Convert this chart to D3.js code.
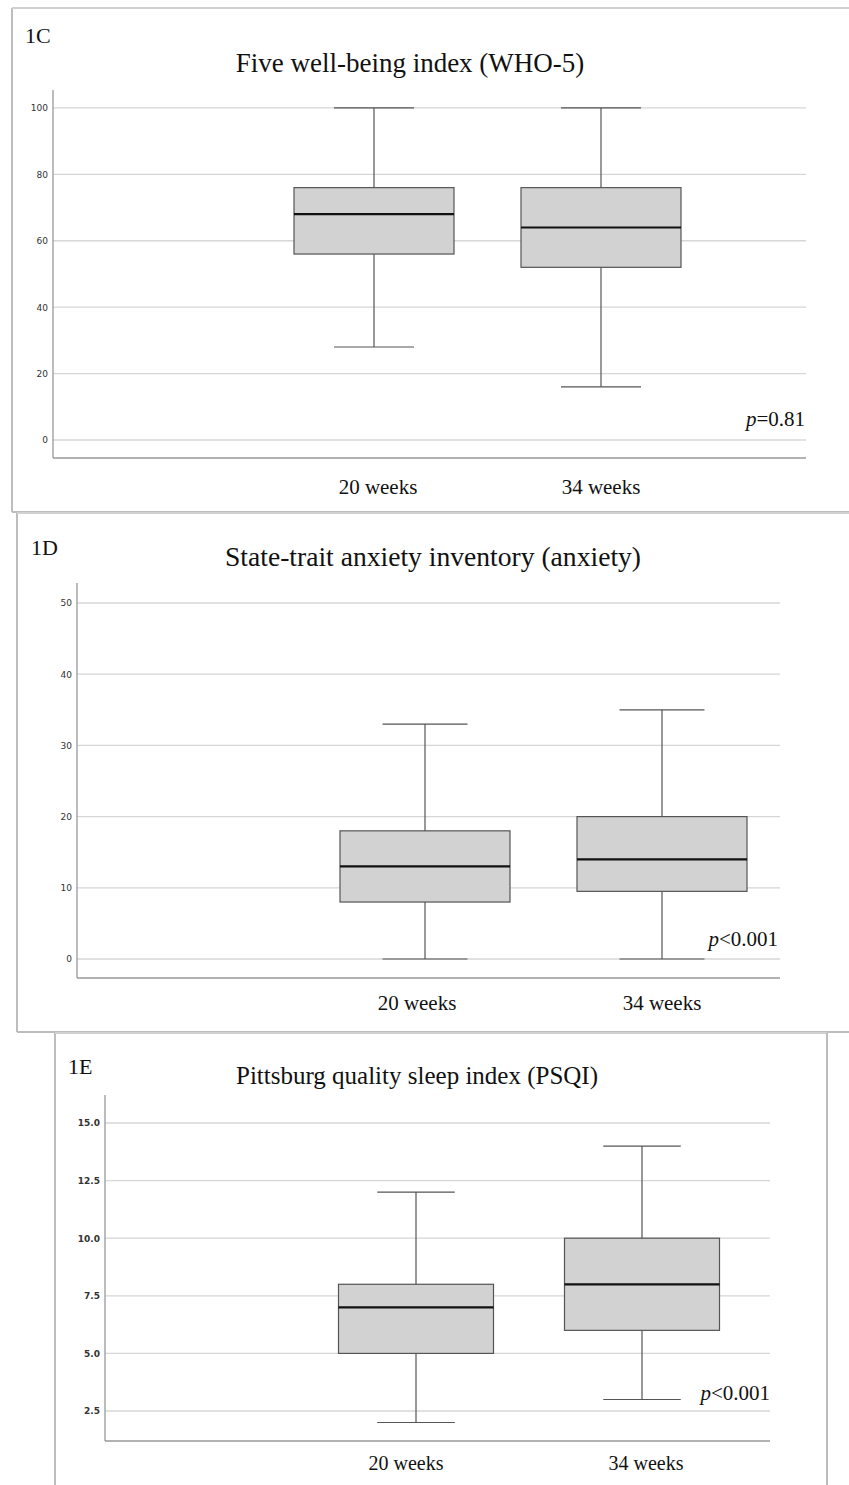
<!DOCTYPE html>
<html>
<head>
<meta charset="utf-8">
<script src="https://cdn.jsdelivr.net/npm/d3@7"></script>
<style>
  body { margin: 0; background: #fff; }
  svg { display: block; }
</style>
</head>
<body>
<svg width="849" height="1485"></svg>
<script>
// ---- data ----
let categories = ["20 weeks", "34 weeks"];

// [min, q1, median, q3, max] per category
let whoStats  = [[28, 56, 68, 76, 100], [16, 52, 64, 76, 100]];
let staiStats = [[0, 8, 13, 18, 33], [0, 9.5, 14, 20, 35]];
let psqiStats = [[2, 5, 7, 8, 12], [3, 6, 8, 10, 14]];

let whoTicks  = [0, 20, 40, 60, 80, 100];
let staiTicks = [0, 10, 20, 30, 40, 50];
let psqiTicks = [2.5, 5, 7.5, 10, 12.5, 15];

let titles  = ["Five well-being index (WHO-5)", "State-trait anxiety inventory (anxiety)", "Pittsburg quality sleep index (PSQI)"];
let tags    = ["1C", "1D", "1E"];
let pLabels = ["=0.81", "<0.001", "<0.001"];

// ---- layout (pixels) ----
let panels = [
  { tag: tags[0], title: titles[0], p: pLabels[0], stats: whoStats, ticks: whoTicks, fmt: d3.format("d"),
    frame: {x: 12, y: 8, w: 850, h: 504, right: false, bottom: true},
    left: 53, right: 806, top: 90, bottom: 458, dom: [-5.42, 105.4],
    centers: [374, 601], labelShift: [4, 0], boxW: 160, titleX: 410, titleY: 72, titleSize: 27,
    tagX: 25, tagY: 43, labelY: 494, pX: 805, pY: 426, tickBold: false, labelSize: 21 },
  { tag: tags[1], title: titles[1], p: pLabels[1], stats: staiStats, ticks: staiTicks, fmt: d3.format("d"),
    frame: {x: 17, y: 513, w: 850, h: 519, right: false, bottom: true},
    left: 77, right: 780, top: 583, bottom: 978, dom: [-2.67, 52.81],
    centers: [425, 662], labelShift: [-8, 0], boxW: 170, titleX: 433, titleY: 566, titleSize: 27.6,
    tagX: 31, tagY: 555, labelY: 1010, pX: 778, pY: 946, tickBold: false, labelSize: 21 },
  { tag: tags[2], title: titles[2], p: pLabels[2], stats: psqiStats, ticks: psqiTicks, fmt: d3.format(".1f"),
    frame: {x: 55, y: 1033, w: 772, h: 470, right: true, bottom: false},
    left: 105, right: 770, top: 1095, bottom: 1441, dom: [1.198, 16.215],
    centers: [416, 642], labelShift: [-10, 4], boxW: 155, titleX: 417, titleY: 1084, titleSize: 25,
    tagX: 68, tagY: 1074, labelY: 1470, pX: 770, pY: 1400, tickBold: true, labelSize: 20 }
];

let svg = d3.select("svg");
let serif = "'Liberation Serif', 'Times New Roman', serif";

panels.forEach(function(p) {
  let g = svg.append("g");
  let f = p.frame;

  // panel frame
  let frameCol = "#bdbdbd";
  g.append("line").attr("x1", f.x).attr("x2", f.x).attr("y1", f.y).attr("y2", f.y + f.h)
    .attr("stroke", frameCol).attr("stroke-width", 2);
  g.append("line").attr("x1", f.x).attr("x2", f.x + f.w).attr("y1", f.y).attr("y2", f.y)
    .attr("stroke", "#d0d0d0").attr("stroke-width", 2);
  if (f.bottom) g.append("line").attr("x1", f.x).attr("x2", f.x + f.w).attr("y1", f.y + f.h).attr("y2", f.y + f.h)
    .attr("stroke", frameCol).attr("stroke-width", 2);
  if (f.right) g.append("line").attr("x1", f.x + f.w).attr("x2", f.x + f.w).attr("y1", f.y).attr("y2", f.y + f.h)
    .attr("stroke", frameCol).attr("stroke-width", 2);

  let y = d3.scaleLinear().domain(p.dom).range([p.bottom, p.top]);
  let x = d3.scalePoint().domain(categories).range(p.centers);

  // gridlines
  g.selectAll(".grid").data(p.ticks).enter().append("line")
    .attr("x1", p.left).attr("x2", p.right)
    .attr("y1", d => y(d)).attr("y2", d => y(d))
    .attr("stroke", "#d6d6d6").attr("stroke-width", 1.3);

  // y axis
  let yAxis = g.append("g")
    .attr("transform", "translate(" + p.left + ",0)")
    .call(d3.axisLeft(y).tickValues(p.ticks).tickFormat(p.fmt).tickSize(0).tickPadding(5));
  yAxis.select(".domain").remove();
  yAxis.selectAll("text")
    .attr("font-family", "'DejaVu Sans', sans-serif")
    .attr("font-size", 9)
    .attr("font-weight", p.tickBold ? "bold" : "normal")
    .attr("fill", "#333");

  // axis frame lines
  g.append("line").attr("x1", p.left).attr("x2", p.left).attr("y1", p.top).attr("y2", p.bottom)
    .attr("stroke", "#999").attr("stroke-width", 1.3);
  g.append("line").attr("x1", p.left).attr("x2", p.right).attr("y1", p.bottom).attr("y2", p.bottom)
    .attr("stroke", "#999").attr("stroke-width", 1.3);

  // x category labels
  g.selectAll(".xlab").data(categories).enter().append("text")
    .attr("x", (d, i) => x(d) + p.labelShift[i]).attr("y", p.labelY)
    .attr("text-anchor", "middle")
    .attr("font-family", serif).attr("font-size", p.labelSize)
    .attr("fill", "#111")
    .text(d => d);

  // boxplots
  let box = g.selectAll(".box").data(p.stats).enter().append("g");
  let cx = (d, i) => x(categories[i]);
  let stroke = "#555";
  box.append("line")
    .attr("x1", cx).attr("x2", cx)
    .attr("y1", d => y(d[0])).attr("y2", d => y(d[4]))
    .attr("stroke", stroke).attr("stroke-width", 1.2);
  box.append("line")
    .attr("x1", (d, i) => cx(d, i) - p.boxW / 4).attr("x2", (d, i) => cx(d, i) + p.boxW / 4)
    .attr("y1", d => y(d[4])).attr("y2", d => y(d[4]))
    .attr("stroke", stroke).attr("stroke-width", 1.2);
  box.append("line")
    .attr("x1", (d, i) => cx(d, i) - p.boxW / 4).attr("x2", (d, i) => cx(d, i) + p.boxW / 4)
    .attr("y1", d => y(d[0])).attr("y2", d => y(d[0]))
    .attr("stroke", stroke).attr("stroke-width", 1.2);
  box.append("rect")
    .attr("x", (d, i) => cx(d, i) - p.boxW / 2)
    .attr("width", p.boxW)
    .attr("y", d => y(d[3]))
    .attr("height", d => y(d[1]) - y(d[3]))
    .attr("fill", "#d2d2d2").attr("stroke", stroke).attr("stroke-width", 1.2);
  box.append("line")
    .attr("x1", (d, i) => cx(d, i) - p.boxW / 2).attr("x2", (d, i) => cx(d, i) + p.boxW / 2)
    .attr("y1", d => y(d[2])).attr("y2", d => y(d[2]))
    .attr("stroke", "#111").attr("stroke-width", 2.2);

  // title, tag, p-value
  g.append("text").attr("x", p.titleX).attr("y", p.titleY)
    .attr("text-anchor", "middle").attr("font-family", serif).attr("font-size", p.titleSize)
    .attr("fill", "#111").text(p.title);
  g.append("text").attr("x", p.tagX).attr("y", p.tagY)
    .attr("font-family", serif).attr("font-size", 22)
    .attr("fill", "#111").text(p.tag);
  let pt = g.append("text").attr("x", p.pX).attr("y", p.pY)
    .attr("text-anchor", "end").attr("font-family", serif).attr("font-size", 21).attr("fill", "#111");
  pt.append("tspan").attr("font-style", "italic").text("p");
  pt.append("tspan").text(p.p);
});
</script>
</body>
</html>
